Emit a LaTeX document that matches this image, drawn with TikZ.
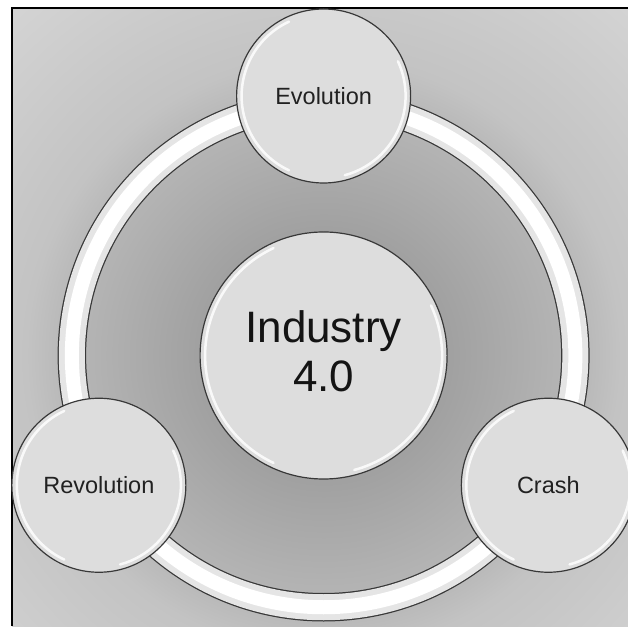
\documentclass[tikz,border=0pt]{standalone}
\usepackage{fontspec}
\setmainfont{Liberation Sans}
\usetikzlibrary{positioning}

\definecolor{rim}{gray}{0.22}
\definecolor{ink}{gray}{0.13}
\definecolor{bubblefill}{gray}{0.865}
\definecolor{ringgray}{gray}{0.90}
\definecolor{bgA}{gray}{0.60}
\definecolor{bgB}{gray}{0.63}
\definecolor{bgC}{gray}{0.675}
\definecolor{bgD}{gray}{0.72}
\definecolor{bgE}{gray}{0.765}
\definecolor{bgF}{gray}{0.835}

\pgfdeclareradialshading{backdrop}{\pgfpoint{0bp}{0bp}}{%
  color(0bp)=(bgA); color(6.5bp)=(bgB); color(10bp)=(bgC);
  color(13.5bp)=(bgD); color(15.5bp)=(bgE); color(25bp)=(bgF);
  color(50bp)=(bgF)}

\begin{document}
\begin{tikzpicture}[x=1pt,y=1pt,node distance=259.5pt,
    bubble/.style={circle,draw=rim,line width=1.2pt,fill=bubblefill,
                   inner sep=0pt,minimum size=#1,text=ink,
                   font=\fontsize{23.5}{26}\selectfont,
                   path picture={
                     \draw[white,line width=2.5pt,line cap=round,opacity=.85]
                       ([shift={(115:0.5*#1-5pt)}]path picture bounding box.center)
                         arc[start angle=115,end angle=245,radius=0.5*#1-5pt]
                       ([shift={(-75:0.5*#1-5pt)}]path picture bounding box.center)
                         arc[start angle=-75,end angle=25,radius=0.5*#1-5pt];
                   }},
    ring/.style={draw=rim,line width=28.5pt,
                 postaction={draw=ringgray,line width=26pt},
                 postaction={draw=white,line width=14pt}}]

  \useasboundingbox (0,0) rectangle (628,626);
  \coordinate (mid) at (323.6,270.5);

  % backdrop and frame
  \begin{scope}
    \clip (12.2,0) rectangle (628,617.7);
    \shade[shading=backdrop] (mid) circle (480);
  \end{scope}
  \draw[line width=2.2pt] (12.2,0) -- (12.2,617.7) -- (628,617.7);

  \node[bubble=247pt,align=center,text=black!92,text depth=8pt,
        font=\fontsize{44}{49}\selectfont] (ind) at (mid) {Industry\\4.0};

  \draw[ring] (ind.center) circle (251.75);

  \node[bubble=174pt] (evo) [above of=ind] {Evolution};
  \node[bubble=174pt] (rev) at ([shift={(210:259.5)}]ind.center) {Revolution};
  \node[bubble=174pt] (crash) at ([shift={(330:259.5)}]ind.center) {Crash};
\end{tikzpicture}
\end{document}
